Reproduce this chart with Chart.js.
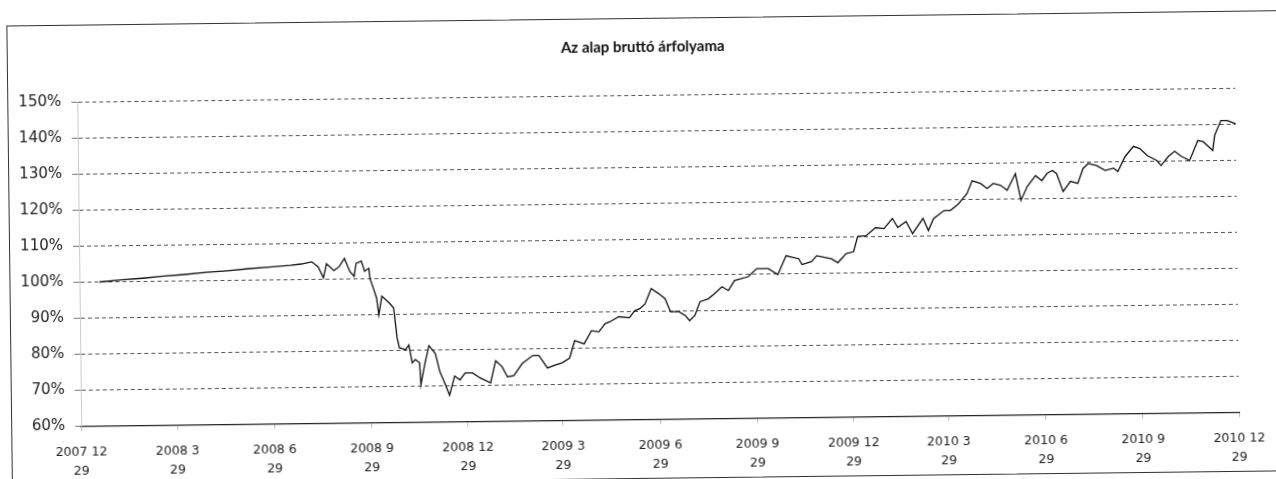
<!DOCTYPE html>
<html><head><meta charset="utf-8">
<script src="https://cdn.jsdelivr.net/npm/chart.js@4.4.1/dist/chart.umd.min.js"></script>
<style>
html,body{margin:0;padding:0;background:#fff;overflow:hidden;width:1276px;height:479px;}
#wrap{position:absolute;left:0;top:0;width:1276px;height:479px;transform:rotate(-0.69deg);transform-origin:638px 240px;}
#frame{position:absolute;left:9px;top:18px;width:1300px;height:461px;border:1.5px solid #333;box-sizing:border-box;}
canvas{position:absolute;left:0;top:0;}
</style></head>
<body><div id="wrap"><div id="frame"></div><canvas id="c" width="1276" height="479"></canvas></div>
<script>
const chartTitle = 'Az alap bruttó árfolyama';
const startDate = '2007-12-29';
const tickDates = ['2007-12-29','2008-03-29','2008-06-29','2008-09-29','2008-12-29','2009-03-29','2009-06-29','2009-09-29','2009-12-29','2010-03-29','2010-06-29','2010-09-29','2010-12-29'];
const tickLabels = [['2007 12','29'],['2008 3','29'],['2008 6','29'],['2008 9','29'],['2008 12','29'],['2009 3','29'],['2009 6','29'],['2009 9','29'],['2009 12','29'],['2010 3','29'],['2010 6','29'],['2010 9','29'],['2010 12','29']];
// days since startDate
const days = [19,40,60,80,100,120,140,160,180,200,210,220,226,231,234,241,246,251,256,260,262,267,270,274,275,278,281,283,286,293,297,300,302,308,311,314,317,321,322,326,330,336,340,344,349,354,359,364,371,378,388,393,399,404,410,418,428,434,442,449,456,463,468,477,484,491,497,502,510,520,525,530,535,541,548,554,559,567,573,577,582,587,595,601,608,614,620,633,641,652,661,669,681,684,693,698,712,718,726,733,737,745,754,762,770,775,783,789,799,804,809,819,825,833,841,846,854,860,866,873,879,887,892,898,906,912,917,922,926,932,939,946,951,956,964,972,980,984,991,999,1005,1012,1021,1025,1032,1038,1044,1052,1060,1065,1074,1076,1082,1088,1097];
// gross price in %
const values = [100.0,100.5,100.9,101.4,101.8,102.3,102.7,103.2,103.6,104.0,104.3,104.9,103.5,100.4,104.3,102.4,103.5,105.7,102.1,100.7,104.3,104.9,102.1,102.9,100.1,97.4,94.6,89.9,95.1,93.2,91.8,83.5,80.7,80.2,81.5,76.5,77.4,76.5,70.4,76.2,81.2,79.0,74.0,71.2,67.4,72.7,71.6,73.5,73.5,72.1,70.7,76.8,75.1,72.3,72.6,75.9,78.1,78.1,74.6,75.4,76.0,77.3,82.1,81.2,84.8,84.5,86.7,87.3,88.6,88.3,90.2,90.8,92.1,96.3,94.9,93.5,89.8,89.8,88.7,87.3,88.7,92.5,93.3,94.7,96.6,95.5,98.3,99.3,101.5,101.5,99.8,105.0,104.1,102.5,103.3,104.9,104.0,102.9,105.4,105.9,110.1,110.3,112.5,112.2,115.0,112.5,114.1,110.7,114.9,111.5,114.8,117.0,117.0,118.9,121.7,125.2,124.4,123.0,124.4,123.8,122.4,127.0,119.6,123.4,126.4,125.0,127.0,127.8,126.9,121.9,124.7,124.1,128.2,129.6,129.0,127.6,128.2,127.3,131.4,134.2,133.6,131.6,130.2,128.8,131.3,132.7,131.3,130.1,135.6,135.3,132.8,137.0,141.1,141.1,140.0];
const yTicks = [60,70,80,90,100,110,120,130,140,150];

const t0 = Date.parse(startDate + 'T00:00:00Z');
const tickDays = tickDates.map(d => Math.round((Date.parse(d + 'T00:00:00Z') - t0) / 86400000));

const titlePlugin = {
  id: 'offsetTitle',
  afterDraw(chart) {
    const ctx = chart.ctx;
    ctx.save();
    ctx.font = 'bold 15px Lato';
    ctx.fillStyle = '#111';
    ctx.textAlign = 'center';
    ctx.textBaseline = 'middle';
    ctx.fillText(chartTitle, 645, 47);
    ctx.restore();
  }
};

new Chart(document.getElementById('c'), {
  type: 'line',
  data: {
    datasets: [{
      data: days.map((d, i) => ({x: d, y: values[i]})),
      borderColor: '#111',
      borderWidth: 1.3,
      pointRadius: 0,
      tension: 0,
      fill: false
    }]
  },
  options: {
    responsive: false,
    animation: false,
    devicePixelRatio: 1,
    layout: {padding: {left: 7, right: 39, top: 95.5, bottom: 0}},
    plugins: {
      legend: {display: false},
      tooltip: {enabled: false},
      title: {display: false}
    },
    scales: {
      x: {
        type: 'linear',
        min: tickDays[0],
        max: tickDays[tickDays.length - 1],
        afterBuildTicks: s => { s.ticks = tickDays.map(v => ({value: v})); },
        afterFit: s => { s.height = 59.5; },
        grid: {display: true, drawOnChartArea: false, drawTicks: true, tickLength: 5, color: '#bbb'},
        border: {display: true, color: '#222', width: 1.3},
        ticks: {
          autoSkip: false, maxRotation: 0, minRotation: 0, padding: 12,
          color: '#222',
          font: {family: 'DejaVu Sans', size: 12.5, lineHeight: 1.5},
          callback: (v, i) => tickLabels[i]
        }
      },
      y: {
        min: 60, max: 150,
        afterBuildTicks: s => { s.ticks = yTicks.map(v => ({value: v})); },
        afterFit: s => { s.width = 72; },
        grid: {color: '#555', lineWidth: 1, drawTicks: true, tickLength: 6, tickColor: '#777'},
        border: {display: true, color: '#ccc', width: 1, dash: [4, 3]},
        ticks: {
          padding: 10, color: '#222',
          font: {family: 'DejaVu Sans', size: 15},
          callback: v => v + '%'
        }
      }
    }
  },
  plugins: [titlePlugin]
});
</script>
</body></html>
